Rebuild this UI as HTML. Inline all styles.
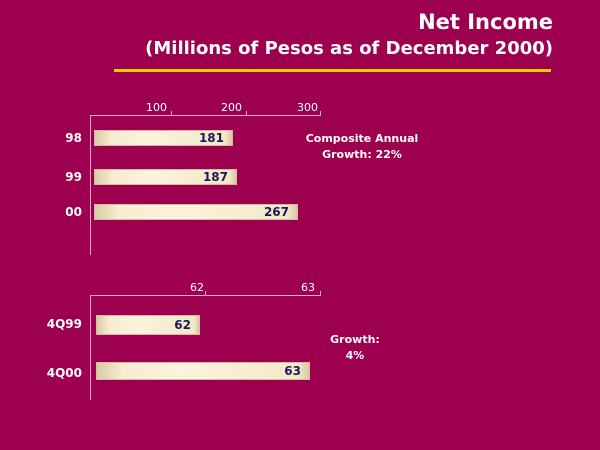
<!DOCTYPE html>
<html><head><style>
body{margin:0;width:600px;height:450px;background:#9c004e;position:relative;overflow:hidden;font-family:"DejaVu Sans","Liberation Sans",sans-serif;font-weight:bold}
.a{position:absolute}
.t{color:#fff;right:47px;text-align:right;white-space:nowrap}
.bar{position:absolute;background:linear-gradient(90deg,#d9cca4 0%,#f6ecd0 12%,#fbf3dc 40%,#f3e8c8 95%,#d8cba3 100%);border:1px solid #d7b7a5;box-sizing:border-box;color:#1a1a5c;font-size:12px;text-align:right;padding-right:8px}
.lbl{position:absolute;color:#fff;font-size:12px;text-align:right;width:50px}
.tk{position:absolute;color:#fff;font-size:11px;font-weight:normal}
.ln{position:absolute;background:#e8a8c8}
</style></head><body>
<div class="a t" style="top:10px;font-size:21px">Net Income</div>
<div class="a t" style="top:38px;font-size:18px">(Millions of Pesos as of December 2000)</div>
<div class="a" style="left:114px;top:69px;width:437px;height:3px;background:#e8d000"></div>

<div class="ln" style="left:90px;top:115px;width:1px;height:140px"></div>
<div class="ln" style="left:90px;top:115px;width:231px;height:1px"></div>
<div class="ln" style="left:171px;top:111px;width:1px;height:4px"></div>
<div class="ln" style="left:246px;top:111px;width:1px;height:4px"></div>
<div class="ln" style="left:320px;top:111px;width:1px;height:4px"></div>
<div class="tk" style="left:146px;top:101px">100</div>
<div class="tk" style="left:221px;top:101px">200</div>
<div class="tk" style="left:297px;top:101px">300</div>
<div class="lbl" style="left:32px;top:131px">98</div>
<div class="lbl" style="left:32px;top:170px">99</div>
<div class="lbl" style="left:32px;top:205px">00</div>
<div class="bar" style="left:94px;top:130px;width:139px;height:16px;line-height:15px">181</div>
<div class="bar" style="left:94px;top:169px;width:143px;height:16px;line-height:15px">187</div>
<div class="bar" style="left:94px;top:204px;width:204px;height:16px;line-height:15px">267</div>
<div class="a" style="left:287px;top:131px;width:150px;text-align:center;color:#fff;font-size:11px;line-height:16px">Composite Annual<br>Growth: 22%</div>

<div class="ln" style="left:90px;top:295px;width:1px;height:105px"></div>
<div class="ln" style="left:90px;top:295px;width:231px;height:1px"></div>
<div class="ln" style="left:205px;top:291px;width:1px;height:4px"></div>
<div class="ln" style="left:320px;top:291px;width:1px;height:4px"></div>
<div class="tk" style="left:190px;top:281px">62</div>
<div class="tk" style="left:301px;top:281px">63</div>
<div class="lbl" style="left:32px;top:317px">4Q99</div>
<div class="lbl" style="left:32px;top:366px">4Q00</div>
<div class="bar" style="left:96px;top:315px;width:104px;height:20px;line-height:19px">62</div>
<div class="bar" style="left:96px;top:362px;width:214px;height:18px;line-height:17px">63</div>
<div class="a" style="left:315px;top:332px;width:80px;text-align:center;color:#fff;font-size:11px;line-height:16px">Growth:<br>4%</div>
</body></html>
